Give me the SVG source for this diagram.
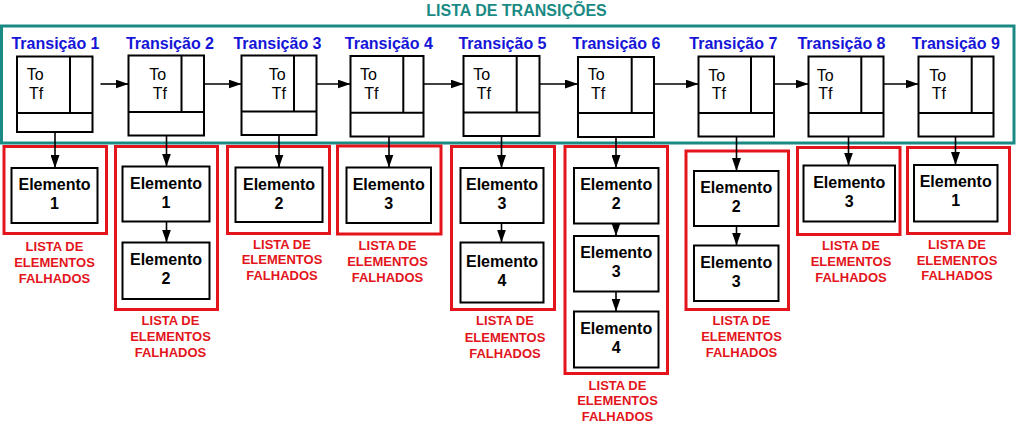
<svg xmlns="http://www.w3.org/2000/svg" width="1017" height="427" viewBox="0 0 1017 427">
<style>
.box{fill:#fff;stroke:#000;stroke-width:2}
.div{stroke:#000;stroke-width:2;fill:none}
.red{fill:none;stroke:#e3141c;stroke-width:3}
.teal{fill:none;stroke:#1a8a84;stroke-width:3}
.conn{stroke:#000;stroke-width:1.6;fill:none;marker-end:url(#ah)}
.tt{font-family:"Liberation Sans",Arial,sans-serif;font-weight:bold;font-size:16px;fill:#1515d8;text-anchor:middle}
.tf{font-family:"Liberation Sans",Arial,sans-serif;font-size:16px;fill:#000}
.el{font-family:"Liberation Sans",Arial,sans-serif;font-weight:bold;font-size:16px;fill:#000;text-anchor:middle}
.lb{font-family:"Liberation Sans",Arial,sans-serif;font-weight:bold;font-size:13px;fill:#e3141c;text-anchor:middle}
.title{font-family:"Liberation Sans",Arial,sans-serif;font-weight:bold;font-size:16px;fill:#1a8a84;text-anchor:middle}
</style>
<defs>
<marker id="ah" markerUnits="userSpaceOnUse" markerWidth="13" markerHeight="9" refX="13" refY="4.5" orient="auto">
<path d="M0,0 L13,4.5 L0,9 z" fill="#000"/>
</marker>
</defs>
<rect width="1017" height="427" fill="#fff"/>
<text class="title" x="516.5" y="16">LISTA DE TRANSIÇÕES</text>
<rect class="teal" x="1.5" y="26" width="1012.5" height="117"/>

<g id="groups">
<rect class="red" x="4" y="146.5" width="102.5" height="87"/>
<rect class="red" x="115.5" y="146.5" width="102" height="163"/>
<rect class="red" x="227.5" y="146.5" width="102" height="87"/>
<rect class="red" x="337.5" y="146" width="103.5" height="88"/>
<rect class="red" x="451.5" y="146.5" width="103" height="163"/>
<rect class="red" x="565" y="146.5" width="102.5" height="227"/>
<rect class="red" x="686" y="151" width="102.5" height="158.5"/>
<rect class="red" x="797.5" y="147.5" width="102.5" height="87"/>
<rect class="red" x="907.5" y="147.5" width="102" height="86"/>
</g>

<g id="t1"><text class="tt" x="55.5" y="49">Transição 1</text><rect class="box" x="17" y="56.5" width="75.5" height="75.5"/><path class="div" d="M70,56.5 V113 M17,113 H92.5"/><text class="tf" x="26.7" y="80">To</text><text class="tf" x="29" y="99">Tf</text></g>
<g id="t2"><text class="tt" x="170" y="49">Transição 2</text><rect class="box" x="128.5" y="55.5" width="75.5" height="80"/><path class="div" d="M181.5,55.5 V112 M128.5,112 H204"/><text class="tf" x="149.3" y="80">To</text><text class="tf" x="152.7" y="99">Tf</text></g>
<g id="t3"><text class="tt" x="277.5" y="49">Transição 3</text><rect class="box" x="241.5" y="55.5" width="75" height="79.5"/><path class="div" d="M294,55.5 V111.5 M241.5,111.5 H316.5"/><text class="tf" x="268.7" y="80">To</text><text class="tf" x="271.7" y="99">Tf</text></g>
<g id="t4"><text class="tt" x="388.8" y="49">Transição 4</text><rect class="box" x="350.5" y="56" width="73" height="80.5"/><path class="div" d="M403.3,56 V112.7 M350.5,112.7 H423.5"/><text class="tf" x="360" y="80">To</text><text class="tf" x="364.3" y="99">Tf</text></g>
<g id="t5"><text class="tt" x="502.5" y="49">Transição 5</text><rect class="box" x="463.5" y="56" width="76" height="80"/><path class="div" d="M516.7,56 V112.5 M463.5,112.5 H539.5"/><text class="tf" x="473.3" y="80">To</text><text class="tf" x="476.7" y="99">Tf</text></g>
<g id="t6"><text class="tt" x="616.3" y="49">Transição 6</text><rect class="box" x="578" y="57" width="76" height="80"/><path class="div" d="M631.7,57 V113 M578,113 H654"/><text class="tf" x="587.7" y="80">To</text><text class="tf" x="591" y="99">Tf</text></g>
<g id="t7"><text class="tt" x="733.3" y="49">Transição 7</text><rect class="box" x="698.5" y="56.5" width="75.5" height="80"/><path class="div" d="M751,56.5 V113 M698.5,113 H774"/><text class="tf" x="708.3" y="81">To</text><text class="tf" x="711.7" y="99">Tf</text></g>
<g id="t8"><text class="tt" x="841.5" y="49">Transição 8</text><rect class="box" x="808.5" y="56.5" width="75" height="80"/><path class="div" d="M861.3,56.5 V113 M808.5,113 H883.5"/><text class="tf" x="816.7" y="81">To</text><text class="tf" x="818.3" y="99">Tf</text></g>
<g id="t9"><text class="tt" x="955.8" y="49">Transição 9</text><rect class="box" x="918.5" y="56.5" width="75" height="80"/><path class="div" d="M971.7,56.5 V113 M918.5,113 H993.5"/><text class="tf" x="929.3" y="81">To</text><text class="tf" x="931.7" y="99">Tf</text></g>

<g id="g1e1"><rect class="box" x="11.5" y="168" width="86" height="55"/><text class="el" x="54.5" y="190">Elemento</text><text class="el" x="54.5" y="209">1</text></g>
<g id="g2e1"><rect class="box" x="122.5" y="166.5" width="87" height="55"/><text class="el" x="166" y="188.5">Elemento</text><text class="el" x="166" y="207.5">1</text></g>
<g id="g2e2"><rect class="box" x="122.5" y="242.5" width="87" height="56.5"/><text class="el" x="166" y="264.5">Elemento</text><text class="el" x="166" y="284">2</text></g>
<g id="g3e2"><rect class="box" x="235.5" y="167.5" width="87" height="54.5"/><text class="el" x="279" y="189.5">Elemento</text><text class="el" x="279" y="208.5">2</text></g>
<g id="g4e3"><rect class="box" x="346.5" y="167.5" width="84.5" height="55.5"/><text class="el" x="388.7" y="189.5">Elemento</text><text class="el" x="388.7" y="208.5">3</text></g>
<g id="g5e3"><rect class="box" x="460.5" y="168" width="83" height="55"/><text class="el" x="502" y="190">Elemento</text><text class="el" x="502" y="209">3</text></g>
<g id="g5e4"><rect class="box" x="460.5" y="242.5" width="83" height="60"/><text class="el" x="502" y="267">Elemento</text><text class="el" x="502" y="286">4</text></g>
<g id="g6e2"><rect class="box" x="574" y="168" width="84.5" height="55.5"/><text class="el" x="616.2" y="190">Elemento</text><text class="el" x="616.2" y="209">2</text></g>
<g id="g6e3"><rect class="box" x="574" y="236" width="84.5" height="55.5"/><text class="el" x="616.2" y="258">Elemento</text><text class="el" x="616.2" y="277">3</text></g>
<g id="g6e4"><rect class="box" x="574" y="311.5" width="84.5" height="56"/><text class="el" x="616.2" y="333.5">Elemento</text><text class="el" x="616.2" y="352.5">4</text></g>
<g id="g7e2"><rect class="box" x="694" y="171" width="84.5" height="55"/><text class="el" x="736.2" y="193">Elemento</text><text class="el" x="736.2" y="212">2</text></g>
<g id="g7e3"><rect class="box" x="694" y="245.5" width="84.5" height="55.5"/><text class="el" x="736.2" y="267.5">Elemento</text><text class="el" x="736.2" y="286.5">3</text></g>
<g id="g8e3"><rect class="box" x="803.5" y="165.5" width="91.5" height="56"/><text class="el" x="849.2" y="187.5">Elemento</text><text class="el" x="849.2" y="206.5">3</text></g>
<g id="g9e1"><rect class="box" x="914" y="165" width="83.5" height="56.5"/><text class="el" x="955.7" y="187">Elemento</text><text class="el" x="955.7" y="206">1</text></g>

<g id="labels">
<text class="lb" x="54.5" y="251">LISTA DE</text><text class="lb" x="54.5" y="267">ELEMENTOS</text><text class="lb" x="54.5" y="283">FALHADOS</text>
<text class="lb" x="170.5" y="325">LISTA DE</text><text class="lb" x="170.5" y="340.5">ELEMENTOS</text><text class="lb" x="170.5" y="356.5">FALHADOS</text>
<text class="lb" x="282" y="248.5">LISTA DE</text><text class="lb" x="282" y="264">ELEMENTOS</text><text class="lb" x="282" y="280">FALHADOS</text>
<text class="lb" x="387.5" y="250">LISTA DE</text><text class="lb" x="387.5" y="266">ELEMENTOS</text><text class="lb" x="387.5" y="281.5">FALHADOS</text>
<text class="lb" x="505" y="325">LISTA DE</text><text class="lb" x="505" y="341.5">ELEMENTOS</text><text class="lb" x="505" y="358">FALHADOS</text>
<text class="lb" x="617.5" y="389.5">LISTA DE</text><text class="lb" x="617.5" y="405">ELEMENTOS</text><text class="lb" x="617.5" y="421">FALHADOS</text>
<text class="lb" x="741.5" y="325">LISTA DE</text><text class="lb" x="741.5" y="340.5">ELEMENTOS</text><text class="lb" x="741.5" y="357">FALHADOS</text>
<text class="lb" x="851" y="250">LISTA DE</text><text class="lb" x="851" y="266">ELEMENTOS</text><text class="lb" x="851" y="282">FALHADOS</text>
<text class="lb" x="957" y="248.5">LISTA DE</text><text class="lb" x="957" y="264.5">ELEMENTOS</text><text class="lb" x="957" y="280">FALHADOS</text>
</g>

<g id="connectors">
<line class="conn" x1="100.5" y1="84" x2="128.5" y2="84"/>
<line class="conn" x1="204" y1="84" x2="241.5" y2="84"/>
<line class="conn" x1="316.5" y1="84" x2="350.5" y2="84"/>
<line class="conn" x1="423.5" y1="84" x2="463.5" y2="84"/>
<line class="conn" x1="539.5" y1="84" x2="578" y2="84"/>
<line class="conn" x1="654" y1="84" x2="698.5" y2="84"/>
<line class="conn" x1="774" y1="84" x2="808.5" y2="84"/>
<line class="conn" x1="883.5" y1="84" x2="918.5" y2="84"/>
<line class="conn" x1="55" y1="132" x2="55" y2="168"/>
<line class="conn" x1="166.5" y1="135.5" x2="166.5" y2="166.5"/>
<line class="conn" x1="279" y1="135" x2="279" y2="167.5"/>
<line class="conn" x1="389" y1="136.5" x2="389" y2="167.5"/>
<line class="conn" x1="501.5" y1="136" x2="501.5" y2="168"/>
<line class="conn" x1="616" y1="137" x2="616" y2="168"/>
<line class="conn" x1="736.5" y1="136.5" x2="736.5" y2="171"/>
<line class="conn" x1="848.5" y1="136.5" x2="848.5" y2="165.5"/>
<line class="conn" x1="955.5" y1="136.5" x2="955.5" y2="165"/>
<line class="conn" x1="166.5" y1="221.5" x2="166.5" y2="242.5"/>
<line class="conn" x1="501.5" y1="223" x2="501.5" y2="242.5"/>
<line class="conn" x1="616" y1="223.5" x2="616" y2="236"/>
<line class="conn" x1="616" y1="291.5" x2="616" y2="311.5"/>
<line class="conn" x1="736.5" y1="226" x2="736.5" y2="245.5"/>
</g>
</svg>
